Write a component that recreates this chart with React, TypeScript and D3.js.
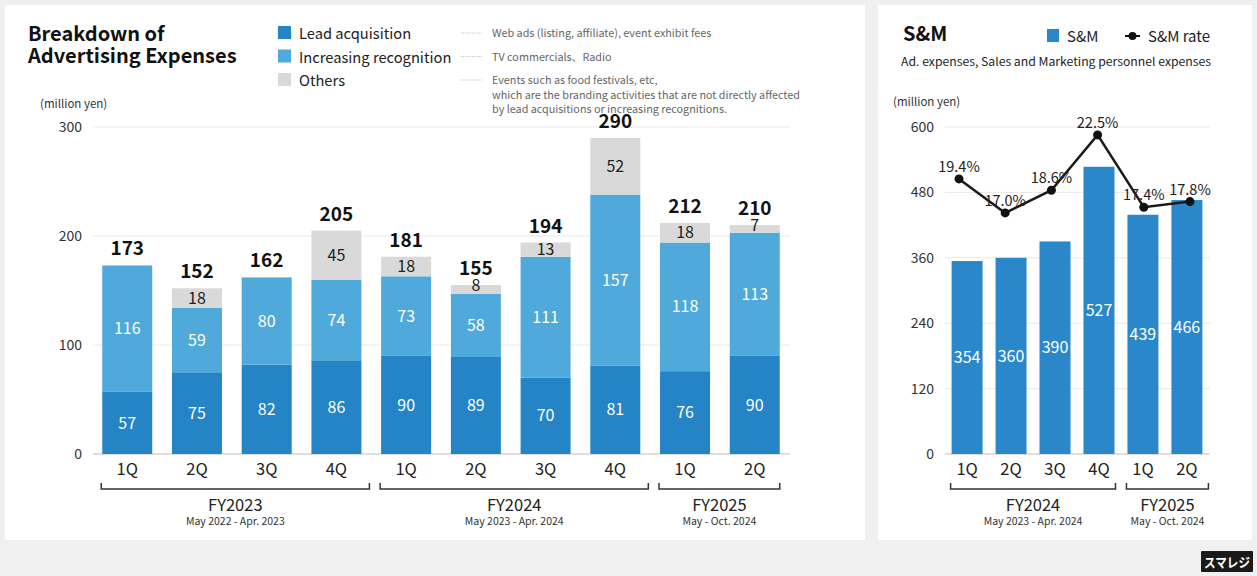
import React from "react";
import * as d3 from "d3";

const quarters = ["1Q", "2Q", "3Q", "4Q", "1Q", "2Q", "3Q", "4Q", "1Q", "2Q"];
const leadAcq = [57, 75, 82, 86, 90, 89, 70, 81, 76, 90];
const recognition = [116, 59, 80, 74, 73, 58, 111, 157, 118, 113];
const others = [0, 18, 0, 45, 18, 8, 13, 52, 18, 7];
const totals = [173, 152, 162, 205, 181, 155, 194, 290, 212, 210];
const leftTicks = [0, 100, 200, 300];
const leftGroups = [
  { fy: "FY2023", sub: "May 2022 - Apr. 2023", from: 0, to: 3 },
  { fy: "FY2024", sub: "May 2023 - Apr. 2024", from: 4, to: 7 },
  { fy: "FY2025", sub: "May - Oct. 2024", from: 8, to: 9 },
];

const smQuarters = ["1Q", "2Q", "3Q", "4Q", "1Q", "2Q"];
const smValues = [354, 360, 390, 527, 439, 466];
const smRate = [19.4, 17.0, 18.6, 22.5, 17.4, 17.8];
const rightTicks = [0, 120, 240, 360, 480, 600];
const rightGroups = [
  { fy: "FY2024", sub: "May 2023 - Apr. 2024", from: 0, to: 3 },
  { fy: "FY2025", sub: "May - Oct. 2024", from: 4, to: 5 },
];

const C_LEAD = "#2584c6";
const C_REC = "#4fa9da";
const C_OTH = "#d9d9d9";
const C_SM = "#2a88ca";
const FONT = "'Noto Sans CJK JP', 'Noto Sans', sans-serif";

export default function App() {
  const yL = d3.scaleLinear().domain([0, 300]).range([454, 127]);
  const xL = d3
    .scaleBand<number>()
    .domain(d3.range(quarters.length))
    .range([92, 790])
    .paddingInner(0.283)
    .paddingOuter(0.147);
  const bwL = xL.bandwidth();

  const yR = d3.scaleLinear().domain([0, 600]).range([454, 127]);
  const xR = d3
    .scaleBand<number>()
    .domain(d3.range(smValues.length))
    .range([945, 1209])
    .paddingInner(0.295)
    .paddingOuter(0.15);
  const bwR = xR.bandwidth();
  const xLine = d3.scalePoint<number>().domain(d3.range(smRate.length)).range([959, 1190]);
  const yRate = d3.scaleLinear().domain([0, 23.06]).range([454, 127]);
  const linePath = d3
    .line<number>()
    .x((_, i) => xLine(i) as number)
    .y((d) => yRate(d))(smRate);

  const segs = quarters.map((_, i) => {
    const a = leadAcq[i];
    const b = recognition[i];
    const c = others[i];
    return [
      { y0: 0, y1: a, v: a, color: C_LEAD, tc: "#fff" },
      { y0: a, y1: a + b, v: b, color: C_REC, tc: "#fff" },
      { y0: a + b, y1: a + b + c, v: c, color: C_OTH, tc: "#222" },
    ];
  });

  return (
    <svg
      width={1257}
      height={576}
      style={{ position: "absolute", left: 0, top: 0, fontFamily: FONT }}
    >
      <rect x={0} y={0} width={1257} height={576} fill="#f0f0f0" />
      <rect x={5} y={5} width={860} height={535} fill="#fff" />
      <rect x={878} y={5} width={374} height={535} fill="#fff" />

      {/* ===== Left panel ===== */}
      <text x={28} y={41} fontSize={20} fontWeight={700} fill="#111">
        Breakdown of
      </text>
      <text x={28} y={63} fontSize={20} fontWeight={700} fill="#111">
        Advertising Expenses
      </text>
      {[
        { t: "Lead acquisition", c: C_LEAD, d: ["Web ads (listing, affiliate), event exhibit fees"] },
        { t: "Increasing recognition", c: C_REC, d: ["TV commercials、Radio"] },
        {
          t: "Others",
          c: C_OTH,
          d: [
            "Events such as food festivals, etc,",
            "which are the branding activities that are not directly affected",
            "by lead acquisitions or increasing recognitions.",
          ],
        },
      ].map((l, i) => (
        <g key={l.t}>
          <rect x={278} y={26 + i * 23.5} width={13} height={13} fill={l.c} />
          <text x={299} y={39 + i * 23.5} fontSize={14.7} fill="#222">
            {l.t}
          </text>
          <line
            x1={461}
            x2={482}
            y1={33 + i * 23.5}
            y2={33 + i * 23.5}
            stroke="#aaa"
            strokeWidth={0.8}
            strokeDasharray="1,1.2"
          />
          {l.d.map((s, j) => (
            <text key={j} x={492} y={37 + i * 23.5 + j * 14.5} fontSize={10.8} fill="#666">
              {s}
            </text>
          ))}
        </g>
      ))}
      <text x={40} y={108} fontSize={11.5} fill="#333">
        (million yen)
      </text>

      {leftTicks.map((t) => (
        <g key={t}>
          <line
            x1={93}
            x2={790}
            y1={yL(t)}
            y2={yL(t)}
            stroke={t === 0 ? "#d4d4d4" : "#e8e8e8"}
            strokeWidth={t === 0 ? 1.5 : 1}
          />
          <text x={82} y={yL(t)} dy="0.35em" fontSize={14} fill="#333" textAnchor="end">
            {t}
          </text>
        </g>
      ))}

      {segs.map((ss, i) => (
        <g key={i}>
          {ss.map((s, k) =>
            s.v > 0 ? (
              <rect
                key={k}
                x={xL(i)}
                y={yL(s.y1)}
                width={bwL}
                height={yL(s.y0) - yL(s.y1)}
                fill={s.color}
              />
            ) : null
          )}
          {ss.map((s, k) =>
            s.v > 0 ? (
              <text
                key={"t" + k}
                x={(xL(i) as number) + bwL / 2}
                y={(yL(s.y0) + yL(s.y1)) / 2 - (k === 2 && s.v < 10 ? 4 : 0)}
                dy="0.35em"
                fontSize={16}
                fill={s.tc}
                textAnchor="middle"
              >
                {s.v}
              </text>
            ) : null
          )}
          <text
            x={(xL(i) as number) + bwL / 2}
            y={yL(totals[i]) - 10}
            fontSize={19}
            fontWeight={700}
            fill="#111"
            textAnchor="middle"
          >
            {totals[i]}
          </text>
          <text
            x={(xL(i) as number) + bwL / 2}
            y={475}
            fontSize={16.5}
            fill="#222"
            textAnchor="middle"
          >
            {quarters[i]}
          </text>
        </g>
      ))}

      {leftGroups.map((g) => {
        const x1 = xL(g.from) as number;
        const x2 = (xL(g.to) as number) + bwL + (g.to === quarters.length - 1 ? 0 : 8);
        const xs = x1 - 1;
        const cx = (xs + x2) / 2;
        return (
          <g key={g.fy}>
            <path
              d={`M${xs},483 V489 H${x2} V483`}
              fill="none"
              stroke="#333"
              strokeWidth={1.5}
            />
            <text x={cx} y={511} fontSize={16.5} fill="#222" textAnchor="middle">
              {g.fy}
            </text>
            <text x={cx} y={525} fontSize={10.5} fill="#333" textAnchor="middle">
              {g.sub}
            </text>
          </g>
        );
      })}

      {/* ===== Right panel ===== */}
      <text x={903} y={41} fontSize={20} fontWeight={700} fill="#111">
        S&amp;M
      </text>
      <rect x={1047} y={29} width={12} height={13} fill={C_SM} />
      <text x={1067} y={42} fontSize={15} fill="#222">
        S&amp;M
      </text>
      <line x1={1125} x2={1140} y1={36} y2={36} stroke="#111" strokeWidth={2} />
      <circle cx={1132.5} cy={36} r={4} fill="#111" />
      <text x={1148} y={42} fontSize={15} fill="#222">
        S&amp;M rate
      </text>
      <text x={901} y={66} fontSize={11.5} fill="#222" textLength={310} lengthAdjust="spacingAndGlyphs">
        Ad. expenses, Sales and Marketing personnel expenses
      </text>
      <text x={893} y={106} fontSize={11.5} fill="#333">
        (million yen)
      </text>

      {rightTicks.map((t) => (
        <g key={t}>
          <line
            x1={945}
            x2={1210}
            y1={yR(t)}
            y2={yR(t)}
            stroke={t === 0 ? "#d4d4d4" : "#e8e8e8"}
            strokeWidth={t === 0 ? 1.5 : 1}
          />
          <text x={934} y={yR(t)} dy="0.35em" fontSize={14} fill="#333" textAnchor="end">
            {t}
          </text>
        </g>
      ))}

      {smValues.map((v, i) => (
        <g key={i}>
          <rect x={xR(i)} y={yR(v)} width={bwR} height={yR(0) - yR(v)} fill={C_SM} />
          <text
            x={(xR(i) as number) + bwR / 2}
            y={(yR(v) + yR(0)) / 2}
            dy="0.35em"
            fontSize={16}
            fill="#fff"
            textAnchor="middle"
          >
            {v}
          </text>
          <text
            x={(xR(i) as number) + bwR / 2}
            y={475}
            fontSize={16.5}
            fill="#222"
            textAnchor="middle"
          >
            {smQuarters[i]}
          </text>
        </g>
      ))}

      <path d={linePath || ""} fill="none" stroke="#1a1a1a" strokeWidth={2.5} />
      {smRate.map((r, i) => (
        <g key={i}>
          <circle cx={xLine(i)} cy={yRate(r)} r={4.5} fill="#111" />
          <text
            x={xLine(i)}
            y={yRate(r) - 7}
            fontSize={14.5}
            fill="#222"
            textAnchor="middle"
          >
            {r.toFixed(1)}%
          </text>
        </g>
      ))}

      {rightGroups.map((g) => {
        const x1 = (xR(g.from) as number) - 1;
        const x2 = (xR(g.to) as number) + bwR + (g.to === smValues.length - 1 ? 6 : 1);
        const cx = (x1 + x2) / 2;
        return (
          <g key={g.fy}>
            <path
              d={`M${x1},483 V489 H${x2} V483`}
              fill="none"
              stroke="#333"
              strokeWidth={1.5}
            />
            <text x={cx} y={511} fontSize={16.5} fill="#222" textAnchor="middle">
              {g.fy}
            </text>
            <text x={cx} y={525} fontSize={10.5} fill="#333" textAnchor="middle">
              {g.sub}
            </text>
          </g>
        );
      })}

      {/* logo */}
      <rect x={1201} y={551} width={52} height={21} fill="#1a1a1a" rx={1} />
      <text
        x={1204}
        y={566.5}
        fontSize={13}
        fontWeight={700}
        fill="#fff"
        textLength={46}
        lengthAdjust="spacingAndGlyphs"
        fontFamily="'Noto Sans CJK JP', sans-serif"
      >
        スマレジ
      </text>
    </svg>
  );
}
